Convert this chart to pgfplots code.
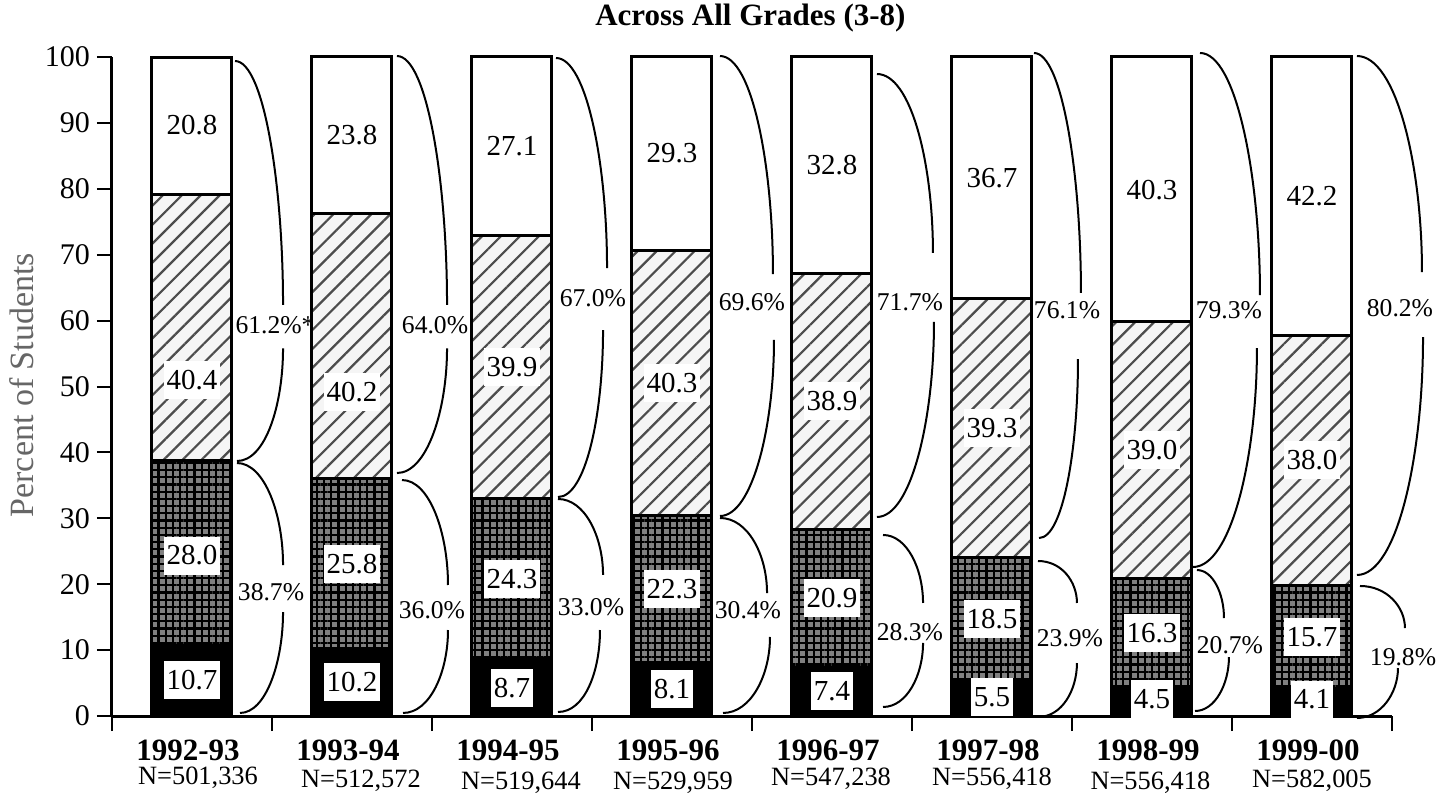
\documentclass[border=0pt]{standalone}
\usepackage{fontspec}
\setmainfont{Liberation Serif}
\usepackage{pgfplots}
\pgfplotsset{compat=1.18}
\usetikzlibrary{patterns.meta}
\newcommand{\fs}[1]{\fontsize{#1}{#1}\selectfont}
\tikzset{
  seglab/.style={fill=white, inner xsep=1.3pt, inner ysep=0pt, minimum height=19pt, font=\fs{14.5}},
  pct/.style={inner sep=0pt, font=\fs{12.8}},
  brc/.style={line width=1pt, black},
  yr/.style={inner sep=0pt, font=\fs{15.5}\bfseries},
  nn/.style={inner sep=0pt, font=\fs{13.2}},
}
\begin{document}
\begin{tikzpicture}
\begin{axis}[
  at={(0,0)}, anchor=south west,
  scale only axis, width=640pt, height=329.5pt,
  xmin=-0.5, xmax=7.5, ymin=0, ymax=100,
  clip=false,
  axis x line=bottom, axis y line=left,
  axis line style={line width=1.5pt, -},
  xtick={-0.5,0.5,...,7.5}, xticklabels={},
  ytick={0,10,...,100},
  tick align=outside, major tick length=7.5pt,
  tick style={line width=1pt, black},
  yticklabel style={font=\fs{15}},
  /pgf/number format/assume math mode=true,
  ylabel={Percent of Students},
  ylabel style={at={(axis description cs:-0.0703,0.502)}, anchor=center, font=\fs{17}, text=black!60},
  ybar stacked, bar width=0.5,
]
% bottom: black
\addplot[fill=black, draw=black, line width=1.5pt] coordinates {(0,10.7) (1,10.2) (2,8.7) (3,8.1) (4,7.4) (5,5.5) (6,4.5) (7,4.1)};
% second: crosshatch
\addplot[draw=black, line width=1.5pt, preaction={fill=black!50}, pattern={Hatch[distance=3.6pt,line width=1.1pt]}, pattern color=black] coordinates {(0,28.0) (1,25.8) (2,24.3) (3,22.3) (4,20.9) (5,18.5) (6,16.3) (7,15.7)};
% third: diagonal lines
\addplot[draw=black, line width=1.5pt, preaction={fill=black!4}, pattern={Lines[angle=45,distance=6.7pt,line width=1.1pt]}, pattern color=black!70] coordinates {(0,40.4) (1,40.2) (2,39.9) (3,40.3) (4,38.9) (5,39.3) (6,39.0) (7,38.0)};
% top: white
\addplot[fill=white, draw=black, line width=1.5pt] coordinates {(0,20.8) (1,23.8) (2,27.1) (3,29.3) (4,32.8) (5,36.7) (6,40.3) (7,42.2)};

% positions of segment labels
\coordinate (a0) at (axis cs:0,5.4);
\coordinate (a1) at (axis cs:1,5.1);
\coordinate (a2) at (axis cs:2,4.3);
\coordinate (a3) at (axis cs:3,4.1);
\coordinate (a4) at (axis cs:4,3.8);
\coordinate (a5) at (axis cs:5,2.9);
\coordinate (a6) at (axis cs:6,2.6);
\coordinate (a7) at (axis cs:7,2.5);
\coordinate (b0) at (axis cs:0,24.35);
\coordinate (b1) at (axis cs:1,23.1);
\coordinate (b2) at (axis cs:2,20.85);
\coordinate (b3) at (axis cs:3,19.25);
\coordinate (b4) at (axis cs:4,17.85);
\coordinate (b5) at (axis cs:5,14.75);
\coordinate (b6) at (axis cs:6,12.65);
\coordinate (b7) at (axis cs:7,11.95);
\coordinate (c0) at (axis cs:0,51.0);
\coordinate (c1) at (axis cs:1,49.2);
\coordinate (c2) at (axis cs:2,52.95);
\coordinate (c3) at (axis cs:3,50.55);
\coordinate (c4) at (axis cs:4,47.75);
\coordinate (c5) at (axis cs:5,43.65);
\coordinate (c6) at (axis cs:6,40.3);
\coordinate (c7) at (axis cs:7,38.8);
\coordinate (d0) at (axis cs:0,89.6);
\coordinate (d1) at (axis cs:1,88.1);
\coordinate (d2) at (axis cs:2,86.45);
\coordinate (d3) at (axis cs:3,85.35);
\coordinate (d4) at (axis cs:4,83.6);
\coordinate (d5) at (axis cs:5,81.65);
\coordinate (d6) at (axis cs:6,79.85);
\coordinate (d7) at (axis cs:7,78.9);

% braces, bar 1
\draw[brc] (axis cs:0.269,99.39) .. controls +(14.4pt,0pt) and +(0pt,60pt) .. (axis cs:0.569,62.4);
\draw[brc] (axis cs:0.569,55.8) .. controls +(0pt,-28pt) and +(14.4pt,0pt) .. (axis cs:0.281,38.69);
\draw[brc] (axis cs:0.281,38.39) .. controls +(13.8pt,0pt) and +(0pt,25.5pt) .. (axis cs:0.569,22.91);
\draw[brc] (axis cs:0.569,15.78) .. controls +(0pt,-25pt) and +(13pt,0pt) .. (axis cs:0.3,0.46);
% bar 2
\draw[brc] (axis cs:1.281,100.15) .. controls +(15pt,0pt) and +(0pt,62pt) .. (axis cs:1.594,62.4);
\draw[brc] (axis cs:1.594,55.8) .. controls +(0pt,-31pt) and +(15pt,0pt) .. (axis cs:1.281,36.87);
\draw[brc] (axis cs:1.3125,35.81) .. controls +(13.8pt,0pt) and +(0pt,26pt) .. (axis cs:1.6,19.88);
\draw[brc] (axis cs:1.6,13.05) .. controls +(0pt,-21pt) and +(13.5pt,0pt) .. (axis cs:1.319,0.46);
% bar 3
\draw[brc] (axis cs:2.275,99.85) .. controls +(15.3pt,0pt) and +(0pt,52pt) .. (axis cs:2.594,67.98);
\draw[brc] (axis cs:2.569,58.57) .. controls +(0pt,-42pt) and +(14pt,0pt) .. (axis cs:2.2875,33.23);
\draw[brc] (axis cs:2.2875,32.93) .. controls +(13.5pt,0pt) and +(0pt,19pt) .. (axis cs:2.569,21.40);
\draw[brc] (axis cs:2.55,13.05) .. controls +(0pt,-20.5pt) and +(13.5pt,0pt) .. (axis cs:2.2875,0.61);
% bar 4
\draw[brc] (axis cs:3.3,100.15) .. controls +(16pt,0pt) and +(0pt,54.5pt) .. (axis cs:3.631,67.07);
\draw[brc] (axis cs:3.6375,57.06) .. controls +(0pt,-44pt) and +(16pt,0pt) .. (axis cs:3.3,30.35);
\draw[brc] (axis cs:3.3,30.05) .. controls +(14pt,0pt) and +(0pt,19pt) .. (axis cs:3.594,18.66);
\draw[brc] (axis cs:3.6125,11.99) .. controls +(0pt,-19pt) and +(14pt,0pt) .. (axis cs:3.319,0.46);
% bar 5
\draw[brc] (axis cs:4.281,97.42) .. controls +(17pt,0pt) and +(0pt,45pt) .. (axis cs:4.631,70.26);
\draw[brc] (axis cs:4.6375,59.79) .. controls +(0pt,-49pt) and +(17pt,0pt) .. (axis cs:4.281,30.20);
\draw[brc] (axis cs:4.319,27.47) .. controls +(12pt,0pt) and +(0pt,17pt) .. (axis cs:4.569,17.15);
\draw[brc] (axis cs:4.569,11.08) .. controls +(0pt,-16pt) and +(12pt,0pt) .. (axis cs:4.319,1.37);
% bar 6
\draw[brc] (axis cs:5.2625,100.61) .. controls +(14pt,0pt) and +(0pt,60pt) .. (axis cs:5.556,64.19);
\draw[brc] (axis cs:5.5375,54.17) .. controls +(0pt,-45pt) and +(12pt,0pt) .. (axis cs:5.294,27.01);
\draw[brc] (axis cs:5.2875,23.52) .. controls +(12pt,0pt) and +(0pt,10.5pt) .. (axis cs:5.531,17.15);
\draw[brc] (axis cs:5.531,8.04) .. controls +(0pt,-13.5pt) and +(12pt,0pt) .. (axis cs:5.2875,-0.15);
% bar 7
\draw[brc] (axis cs:6.3,100.61) .. controls +(18pt,0pt) and +(0pt,60pt) .. (axis cs:6.675,63.88);
\draw[brc] (axis cs:6.656,55.84) .. controls +(0pt,-55pt) and +(19pt,0pt) .. (axis cs:6.256,22.61);
\draw[brc] (axis cs:6.281,22.15) .. controls +(8pt,0pt) and +(0pt,12pt) .. (axis cs:6.45,14.87);
\draw[brc] (axis cs:6.481,8.95) .. controls +(0pt,-13.5pt) and +(10pt,0pt) .. (axis cs:6.269,0.76);
% bar 8
\draw[brc] (axis cs:7.281,100.15) .. controls +(19.5pt,0pt) and +(0pt,54pt) .. (axis cs:7.6875,67.37);
\draw[brc] (axis cs:7.694,57.51) .. controls +(0pt,-60pt) and +(20pt,0pt) .. (axis cs:7.281,21.40);
\draw[brc] (axis cs:7.3,19.73) .. controls +(13.5pt,0pt) and +(0pt,10.5pt) .. (axis cs:7.581,13.35);
\draw[brc] (axis cs:7.5375,7.28) .. controls +(0pt,-12.5pt) and +(12pt,0pt) .. (axis cs:7.281,-0.30);

% percent labels
\node[pct] at (axis cs:0.519,59.3) {61.2\%*};
\node[pct] at (axis cs:0.494,18.82) {38.7\%};
\node[pct] at (axis cs:1.519,59.3) {64.0\%};
\node[pct] at (axis cs:1.5,16.08) {36.0\%};
\node[pct] at (axis cs:2.506,63.43) {67.0\%};
\node[pct] at (axis cs:2.494,16.54) {33.0\%};
\node[pct] at (axis cs:3.5,62.82) {69.6\%};
\node[pct] at (axis cs:3.475,16.08) {30.4\%};
\node[pct] at (axis cs:4.4875,62.82) {71.7\%};
\node[pct] at (axis cs:4.4875,12.75) {28.3\%};
\node[pct] at (axis cs:5.469,61.61) {76.1\%};
\node[pct] at (axis cs:5.4875,11.84) {23.9\%};
\node[pct] at (axis cs:6.481,61.61) {79.3\%};
\node[pct] at (axis cs:6.4875,10.77) {20.7\%};
\node[pct] at (axis cs:7.55,61.91) {80.2\%};
\node[pct] at (axis cs:7.569,8.95) {19.8\%};

% category labels
\node[yr] at (axis cs:-0.025,-5.2) {1992-93};
\node[yr] at (axis cs:0.975,-5.2) {1993-94};
\node[yr] at (axis cs:1.975,-5.2) {1994-95};
\node[yr] at (axis cs:2.975,-5.2) {1995-96};
\node[yr] at (axis cs:3.975,-5.2) {1996-97};
\node[yr] at (axis cs:4.975,-5.2) {1997-98};
\node[yr] at (axis cs:5.975,-5.2) {1998-99};
\node[yr] at (axis cs:6.975,-5.2) {1999-00};
\node[nn] at (axis cs:0.0375,-9.4) {N=501,336};
\node[nn] at (axis cs:1.056,-9.8) {N=512,572};
\node[nn] at (axis cs:2.056,-10.1) {N=519,644};
\node[nn] at (axis cs:3.006,-10.2) {N=529,959};
\node[nn] at (axis cs:3.994,-9.5) {N=547,238};
\node[nn] at (axis cs:5.0,-9.5) {N=556,418};
\node[nn] at (axis cs:5.99,-10.1) {N=556,418};
\node[nn] at (axis cs:7.0,-9.8) {N=582,005};

% title
\node[font=\fs{15.5}\bfseries] at (axis cs:3.49,105.9) {Across All Grades (3-8)};
\end{axis}
% segment value labels on top of the bars
\node[seglab] at (a0) {10.7};
\node[seglab] at (a1) {10.2};
\node[seglab] at (a2) {8.7};
\node[seglab] at (a3) {8.1};
\node[seglab] at (a4) {7.4};
\node[seglab] at (a5) {5.5};
\node[seglab] at (a6) {4.5};
\node[seglab] at (a7) {4.1};
\node[seglab] at (b0) {28.0};
\node[seglab] at (b1) {25.8};
\node[seglab] at (b2) {24.3};
\node[seglab] at (b3) {22.3};
\node[seglab] at (b4) {20.9};
\node[seglab] at (b5) {18.5};
\node[seglab] at (b6) {16.3};
\node[seglab] at (b7) {15.7};
\node[seglab] at (c0) {40.4};
\node[seglab] at (c1) {40.2};
\node[seglab] at (c2) {39.9};
\node[seglab] at (c3) {40.3};
\node[seglab] at (c4) {38.9};
\node[seglab] at (c5) {39.3};
\node[seglab] at (c6) {39.0};
\node[seglab] at (c7) {38.0};
\node[seglab] at (d0) {20.8};
\node[seglab] at (d1) {23.8};
\node[seglab] at (d2) {27.1};
\node[seglab] at (d3) {29.3};
\node[seglab] at (d4) {32.8};
\node[seglab] at (d5) {36.7};
\node[seglab] at (d6) {40.3};
\node[seglab] at (d7) {42.2};
\pgfresetboundingbox
\useasboundingbox (-56pt,-39pt) rectangle (671.5pt,358pt);
\end{tikzpicture}
\end{document}
